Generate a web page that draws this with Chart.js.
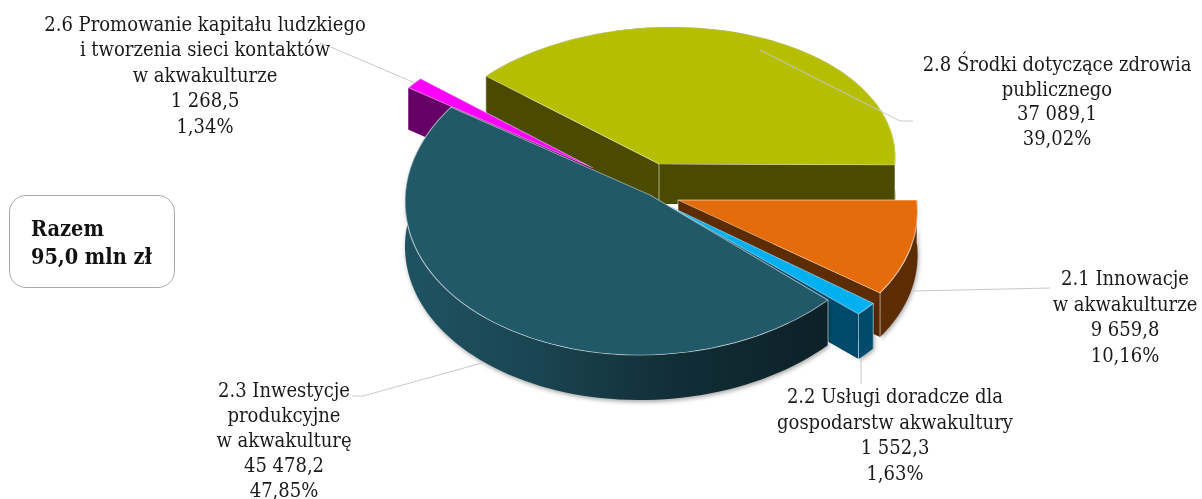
<!DOCTYPE html>
<html>
<head>
<meta charset="utf-8">
<style>
  body { margin: 0; background: #fff; }
  #wrap { position: relative; width: 1202px; height: 499px; overflow: hidden; font-family: "DejaVu Serif Condensed", "DejaVu Serif", serif; color: #1a1a1a; }
  .lbl { position: absolute; transform: translateX(-50%); text-align: center; white-space: nowrap; font-size: 20px; }
  #total { position: absolute; left: 9px; top: 195px; width: 164px; height: 91px; border: 1px solid #a8a8a8; border-radius: 17px; font-weight: bold; font-size: 21.5px; line-height: 28px; color: #111; }
  #total div { margin-left: 21px; margin-top: 19px; }
</style>
</head>
<body>
<div id="wrap">
  <canvas id="pieChart" width="1202" height="499"></canvas>
  <div id="total"></div>
</div>
<script src="https://cdn.jsdelivr.net/npm/chart.js@4"></script>
<script>
const categories = [
    ['2.1 Innowacje', 'w akwakulturze'],
    ['2.2 Usługi doradcze dla', 'gospodarstw akwakultury'],
    ['2.3 Inwestycje', 'produkcyjne', 'w akwakulturę'],
    ['2.6 Promowanie kapitału ludzkiego', 'i tworzenia sieci kontaktów', 'w akwakulturze'],
    ['2.8 Środki dotyczące zdrowia', 'publicznego']
];
const seriesValues = [9659.8, 1552.3, 45478.2, 1268.5, 37089.1];
const valueLabels = ['9 659,8', '1 552,3', '45 478,2', '1 268,5', '37 089,1'];
const percentLabels = ['10,16%', '1,63%', '47,85%', '1,34%', '39,02%'];
const totalLines = ['Razem', '95,0 mln zł'];

const topColors = ['#e46c0a', '#00b0f0', '#215968', '#ff00ff', '#b5bf00'];
const wallColors = ['#5c2c02', '#004a6b', '#1c4a58', '#660066', '#4b4b00'];

// how each exploded slice sits in the fake 3D view: apex, ellipse matrix and wall height
const sliceViews = [
    { cx: 678, cy: 200, rx: 239, sx: 17, sy: 0, ry: 156, depth: 44, shadow: true },
    { cx: 669, cy: 206, rx: 244, sx: 14, sy: 12, ry: 147, depth: 45, shadow: true },
    { cx: 650, cy: 195, rx: 245, sx: -4, sy: -4, ry: 160, depth: 45, shadow: true },
    { cx: 593, cy: 168, rx: 230, sx: -8, sy: 2, ry: 138, depth: 42, shadow: false },
    { cx: 659, cy: 164, rx: 236, sx: -14, sy: 1, ry: 137, depth: 40, shadow: false }
];

const labelPlaces = [
    { x: 1125, top: 266, lh: 25.5 },
    { x: 895, top: 384, lh: 25.7 },
    { x: 284, top: 378, lh: 25 },
    { x: 205, top: 12, lh: 25.4 },
    { x: 1057, top: 52, lh: 24.6 }
];

const leaderLines = [
    [[913, 291], [1050, 288]],
    [[861, 358], [861, 384]],
    [[482, 363], [363, 396], [352, 396]],
    [[320, 43], [333, 48], [415, 83]],
    [[760, 50], [900, 121], [913, 121]]
];

function project(view, angle, drop) {
    const X = Math.cos(angle), Y = Math.sin(angle);
    return [view.cx + view.rx * X + view.sx * Y, view.cy + view.sy * X + view.ry * Y + drop];
}

function fillWall(ctx, pts, color) {
    ctx.beginPath();
    pts.forEach((p, i) => i ? ctx.lineTo(p[0], p[1]) : ctx.moveTo(p[0], p[1]));
    ctx.closePath();
    ctx.fillStyle = color;
    ctx.fill();
}

function drawWalls(ctx, el, i) {
    const view = sliceViews[i];
    const a0 = el.startAngle, a1 = el.endAngle;
    const start = project(view, a0, 0), end = project(view, a1, 0);
    const d = view.depth;

    fillWall(ctx, [[view.cx, view.cy], start, [start[0], start[1] + d], [view.cx, view.cy + d]], wallColors[i]);
    fillWall(ctx, [[view.cx, view.cy], end, [end[0], end[1] + d], [view.cx, view.cy + d]], wallColors[i]);

    ctx.save();
    if (view.shadow) {
        ctx.shadowColor = 'rgba(0,0,0,0.35)';
        ctx.shadowBlur = 4;
        ctx.shadowOffsetX = 1;
        ctx.shadowOffsetY = 2;
    }
    let outer = [];
    const steps = 80;
    for (let s = 0; s <= steps; s++) outer.push(project(view, a0 + (a1 - a0) * s / steps, 0));
    for (let s = steps; s >= 0; s--) outer.push(project(view, a0 + (a1 - a0) * s / steps, d));
    let wall = wallColors[i];
    if (i === 2) {
        wall = ctx.createLinearGradient(405, 0, 830, 0);
        wall.addColorStop(0, '#1f5362');
        wall.addColorStop(0.3, '#1a4552');
        wall.addColorStop(0.65, '#112d36');
        wall.addColorStop(1, '#0c2027');
    }
    fillWall(ctx, outer, wall);
    ctx.restore();

    // light vertical edges, the pink sliver has none
    if (i === 3) return;
    ctx.strokeStyle = 'rgba(255,255,255,0.55)';
    ctx.lineWidth = 1;
    [[view.cx, view.cy], start, end].forEach(p => {
        ctx.beginPath();
        ctx.moveTo(p[0], p[1]);
        ctx.lineTo(p[0], p[1] + d);
        ctx.stroke();
    });
}

// top face is the library's own arc, flattened
function drawTop(ctx, el, i) {
    const view = sliceViews[i];
    const R = el.outerRadius;
    ctx.save();
    ctx.translate(view.cx, view.cy);
    ctx.transform(view.rx / R, view.sy / R, view.sx / R, view.ry / R, 0, 0);
    ctx.translate(-el.x, -el.y);
    el.draw(ctx);
    ctx.restore();
}

const flatPie = {
    id: 'flatPie',
    beforeDatasetDraw(chart, args) {
        const ctx = chart.ctx;
        const arcs = args.meta.data;
        [4, 3, 0].forEach(i => { drawWalls(ctx, arcs[i], i); drawTop(ctx, arcs[i], i); });
        drawWalls(ctx, arcs[1], 1);
        drawWalls(ctx, arcs[2], 2);
        drawTop(ctx, arcs[2], 2);
        drawTop(ctx, arcs[1], 1);
        return false;
    },
    afterDraw(chart) {
        const ctx = chart.ctx;
        ctx.save();
        ctx.strokeStyle = '#c8c8c8';
        ctx.lineWidth = 1;
        leaderLines.forEach(line => {
            ctx.beginPath();
            line.forEach((p, i) => i ? ctx.lineTo(p[0], p[1]) : ctx.moveTo(p[0], p[1]));
            ctx.stroke();
        });
        ctx.restore();
    }
};

new Chart(document.getElementById('pieChart'), {
    type: 'pie',
    data: {
        labels: categories.map(c => c.join(' ')),
        datasets: [{
            data: seriesValues,
            backgroundColor: topColors,
            borderColor: 'rgba(255,255,255,0.55)',
            borderWidth: 1
        }]
    },
    options: {
        responsive: false,
        animation: false,
        rotation: 90,
        radius: 200,
        plugins: { legend: { display: false }, tooltip: { enabled: false } }
    },
    plugins: [flatPie]
});

const wrap = document.getElementById('wrap');
categories.forEach((lines, i) => {
    const div = document.createElement('div');
    div.className = 'lbl';
    div.style.left = labelPlaces[i].x + 'px';
    div.style.top = labelPlaces[i].top + 'px';
    div.style.lineHeight = labelPlaces[i].lh + 'px';
    div.innerHTML = lines.concat(valueLabels[i], percentLabels[i]).join('<br>');
    wrap.appendChild(div);
});
document.getElementById('total').innerHTML = '<div>' + totalLines.join('<br>') + '</div>';
</script>
</body>
</html>
